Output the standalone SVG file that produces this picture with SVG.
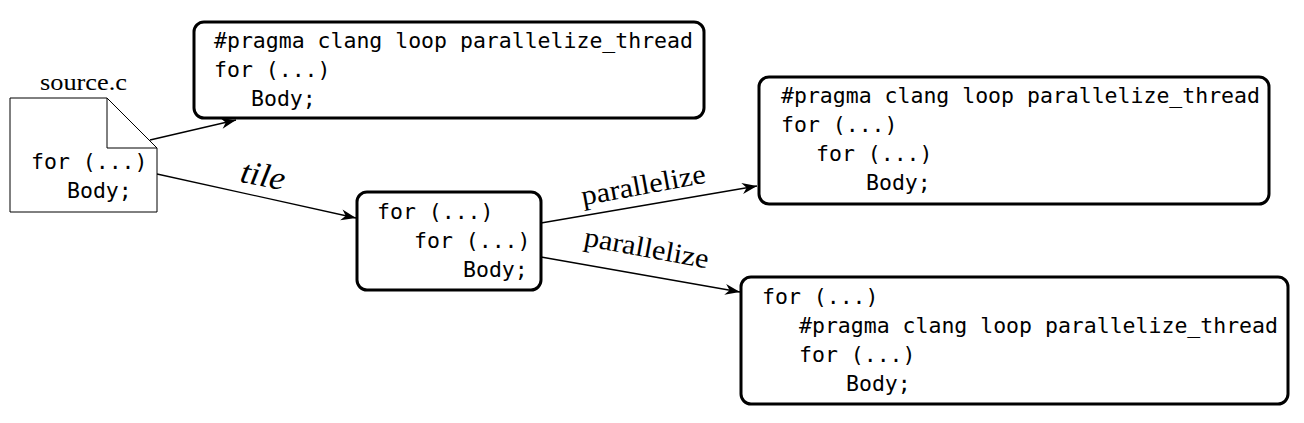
<svg xmlns="http://www.w3.org/2000/svg" width="1304" height="423" viewBox="0 0 1304 423">
<style>
.code{font-family:"DejaVu Sans Mono","Liberation Mono",monospace;font-size:21.5px;fill:#000}
.box{fill:#fff;stroke:#000;stroke-width:3}
.lbl{font-family:"Liberation Serif","DejaVu Serif",serif;fill:#000}
.edge{stroke:#000;stroke-width:1.3;fill:none;marker-end:url(#ah)}
</style>
<defs>
<marker id="ah" markerUnits="userSpaceOnUse" viewBox="-16 -7 17 14" markerWidth="17" markerHeight="14" refX="0" refY="0" orient="auto">
<path d="M0,0 L-15,-5.5 L-10.5,0 L-15,5.5 Z" fill="#000"/>
</marker>
</defs>
<rect width="1304" height="423" fill="#fff"/>
<g id="connectors">
<line class="edge" x1="150" y1="140" x2="236" y2="120"/>
<line class="edge" x1="157" y1="174" x2="356" y2="218"/>
<line class="edge" x1="541" y1="223" x2="757" y2="186"/>
<line class="edge" x1="541" y1="257" x2="740" y2="292"/>
<text class="lbl" font-style="italic" font-size="33" text-anchor="middle" textLength="45" lengthAdjust="spacingAndGlyphs" transform="translate(261,186) rotate(11)">tile</text>
<text class="lbl" font-size="28" text-anchor="middle" textLength="126" lengthAdjust="spacingAndGlyphs" transform="translate(645,194) rotate(-10.4)">parallelize</text>
<text class="lbl" font-size="28" text-anchor="middle" textLength="126" lengthAdjust="spacingAndGlyphs" transform="translate(645,257) rotate(10.5)">parallelize</text>
</g>
<g id="source">
<path d="M10,98 H107 L157,148 V212 H10 Z" fill="#fff" stroke="#000" stroke-width="1"/>
<path d="M107,98 V148 H157" fill="none" stroke="#000" stroke-width="1"/>
<text class="lbl" font-size="24" x="83.5" y="90" text-anchor="middle" textLength="87" lengthAdjust="spacingAndGlyphs">source.c</text>
<text class="code" x="31" y="169">for (...)</text>
<text class="code" x="67" y="198">Body;</text>
</g>
<g id="box1">
<rect class="box" x="194" y="22" width="510" height="96" rx="10"/>
<text class="code" x="214" y="48">#pragma clang loop parallelize_thread</text>
<text class="code" x="214" y="77">for (...)</text>
<text class="code" x="251" y="106">Body;</text>
</g>
<g id="tiled">
<rect class="box" x="357" y="192" width="184" height="98" rx="10"/>
<text class="code" x="377" y="219">for (...)</text>
<text class="code" x="414" y="248">for (...)</text>
<text class="code" x="463" y="277">Body;</text>
</g>
<g id="outer">
<rect class="box" x="759" y="77" width="510" height="127" rx="10"/>
<text class="code" x="781" y="103">#pragma clang loop parallelize_thread</text>
<text class="code" x="781" y="132">for (...)</text>
<text class="code" x="816" y="161">for (...)</text>
<text class="code" x="866" y="190">Body;</text>
</g>
<g id="inner">
<rect class="box" x="741" y="277" width="547" height="127" rx="10"/>
<text class="code" x="762" y="304">for (...)</text>
<text class="code" x="799" y="333">#pragma clang loop parallelize_thread</text>
<text class="code" x="799" y="362">for (...)</text>
<text class="code" x="846" y="391">Body;</text>
</g>
</svg>
